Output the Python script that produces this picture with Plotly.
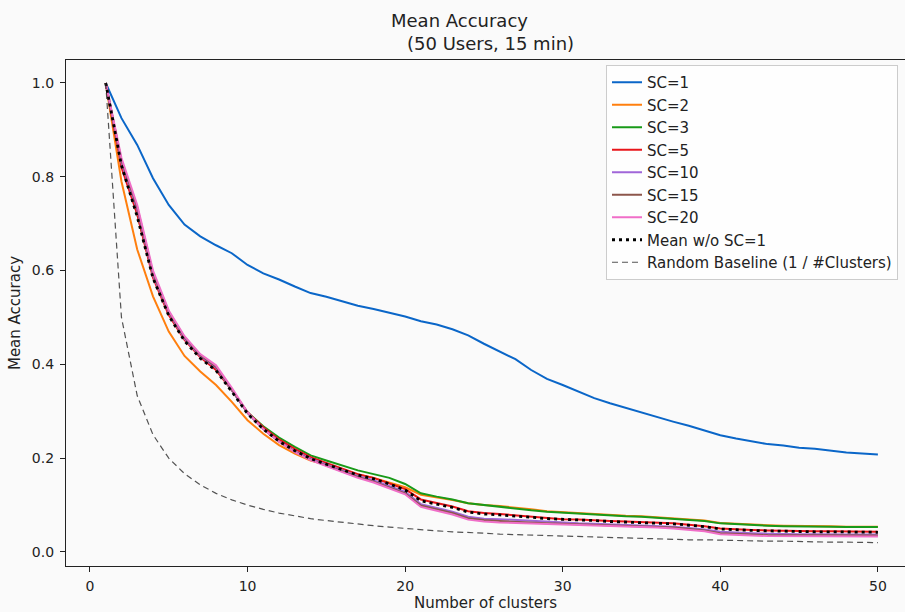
import plotly.graph_objects as go

clusters = list(range(1, 51))

sc1 = [1.000, 0.925, 0.868, 0.797, 0.740, 0.698, 0.673, 0.654, 0.637, 0.612,
       0.594, 0.581, 0.566, 0.552, 0.544, 0.534, 0.525, 0.518, 0.510, 0.502,
       0.492, 0.485, 0.475, 0.462, 0.444, 0.427, 0.411, 0.388, 0.369, 0.356,
       0.342, 0.328, 0.317, 0.307, 0.298, 0.288, 0.278, 0.269, 0.259, 0.249,
       0.242, 0.236, 0.230, 0.227, 0.222, 0.220, 0.216, 0.212, 0.210, 0.208]

sc2 = [1.000, 0.790, 0.645, 0.545, 0.470, 0.418, 0.385, 0.356, 0.320, 0.281,
       0.252, 0.228, 0.210, 0.195, 0.186, 0.176, 0.165, 0.158, 0.148, 0.138,
       0.122, 0.117, 0.111, 0.104, 0.100, 0.098, 0.095, 0.091, 0.087, 0.085,
       0.082, 0.080, 0.078, 0.077, 0.076, 0.074, 0.072, 0.070, 0.067, 0.062,
       0.060, 0.058, 0.057, 0.056, 0.056, 0.055, 0.055, 0.054, 0.054, 0.054]

sc3 = [1.000, 0.830, 0.720, 0.590, 0.510, 0.455, 0.418, 0.390, 0.345, 0.298,
       0.268, 0.244, 0.224, 0.206, 0.195, 0.185, 0.174, 0.166, 0.158, 0.145,
       0.125, 0.118, 0.112, 0.104, 0.100, 0.097, 0.093, 0.089, 0.086, 0.084,
       0.081, 0.079, 0.077, 0.076, 0.075, 0.073, 0.071, 0.069, 0.066, 0.061,
       0.059, 0.057, 0.056, 0.055, 0.055, 0.054, 0.054, 0.053, 0.053, 0.053]

sc5 = [1.000, 0.820, 0.720, 0.585, 0.505, 0.452, 0.415, 0.388, 0.345, 0.298,
       0.266, 0.240, 0.220, 0.202, 0.190, 0.178, 0.166, 0.158, 0.146, 0.134,
       0.112, 0.105, 0.097, 0.087, 0.083, 0.081, 0.078, 0.075, 0.072, 0.070,
       0.069, 0.067, 0.066, 0.065, 0.064, 0.063, 0.061, 0.058, 0.055, 0.050,
       0.048, 0.047, 0.046, 0.045, 0.045, 0.044, 0.044, 0.044, 0.043, 0.043]

sc10 = [1.000, 0.830, 0.730, 0.590, 0.510, 0.455, 0.418, 0.393, 0.345, 0.296,
        0.262, 0.236, 0.215, 0.199, 0.186, 0.174, 0.162, 0.153, 0.141, 0.128,
        0.102, 0.094, 0.086, 0.075, 0.071, 0.070, 0.068, 0.066, 0.064, 0.062,
        0.061, 0.060, 0.059, 0.058, 0.057, 0.056, 0.054, 0.051, 0.048, 0.043,
        0.041, 0.040, 0.039, 0.038, 0.038, 0.038, 0.037, 0.037, 0.037, 0.037]

sc15 = [1.000, 0.835, 0.735, 0.595, 0.512, 0.458, 0.420, 0.395, 0.347, 0.297,
        0.262, 0.235, 0.214, 0.197, 0.184, 0.172, 0.160, 0.150, 0.138, 0.125,
        0.099, 0.091, 0.083, 0.072, 0.068, 0.066, 0.064, 0.062, 0.061, 0.060,
        0.059, 0.058, 0.057, 0.056, 0.055, 0.054, 0.052, 0.049, 0.046, 0.040,
        0.038, 0.037, 0.036, 0.036, 0.035, 0.035, 0.035, 0.035, 0.035, 0.035]

sc20 = [1.000, 0.840, 0.740, 0.600, 0.515, 0.460, 0.422, 0.398, 0.350, 0.298,
        0.262, 0.235, 0.213, 0.196, 0.183, 0.171, 0.158, 0.148, 0.136, 0.123,
        0.096, 0.088, 0.080, 0.069, 0.065, 0.063, 0.062, 0.060, 0.059, 0.058,
        0.057, 0.056, 0.055, 0.054, 0.053, 0.052, 0.050, 0.047, 0.044, 0.038,
        0.036, 0.035, 0.034, 0.034, 0.033, 0.033, 0.033, 0.033, 0.033, 0.033]

mean_wo_sc1 = [1.000, 0.824, 0.715, 0.584, 0.504, 0.450, 0.413, 0.387, 0.342, 0.295,
               0.262, 0.236, 0.216, 0.199, 0.187, 0.176, 0.164, 0.156, 0.145, 0.132,
               0.109, 0.102, 0.095, 0.085, 0.081, 0.079, 0.077, 0.074, 0.071, 0.070,
               0.068, 0.067, 0.065, 0.064, 0.063, 0.062, 0.060, 0.057, 0.054, 0.049,
               0.047, 0.046, 0.045, 0.044, 0.044, 0.043, 0.043, 0.043, 0.042, 0.042]

random_baseline = [1.000, 0.500, 0.333, 0.250, 0.200, 0.167, 0.143, 0.125, 0.111, 0.100,
                   0.091, 0.083, 0.077, 0.071, 0.067, 0.063, 0.059, 0.056, 0.053, 0.050,
                   0.048, 0.045, 0.043, 0.042, 0.040, 0.038, 0.037, 0.036, 0.034, 0.033,
                   0.032, 0.031, 0.030, 0.029, 0.029, 0.028, 0.027, 0.026, 0.026, 0.025,
                   0.024, 0.024, 0.023, 0.023, 0.022, 0.022, 0.021, 0.021, 0.020, 0.020]

series_names = ["SC=1", "SC=2", "SC=3", "SC=5", "SC=10", "SC=15", "SC=20"]
series_values = [sc1, sc2, sc3, sc5, sc10, sc15, sc20]
series_colors = ["#0a66c8", "#ff7f0e", "#189a18", "#e8161b", "#a066d8", "#8c564b", "#f06ec8"]

x_ticks = [0, 10, 20, 30, 40, 50]
y_ticks = [0.0, 0.2, 0.4, 0.6, 0.8, 1.0]
y_tick_labels = ["0.0", "0.2", "0.4", "0.6", "0.8", "1.0"]

FONT = "DejaVu Sans"
W, H = 905, 612
L, T, B = 66, 60, 46

fig = go.Figure()
for name, vals, col in zip(series_names, series_values, series_colors):
    fig.add_trace(go.Scatter(x=clusters, y=vals, mode="lines", name=name,
                             line=dict(color=col, width=2)))
fig.add_trace(go.Scatter(x=clusters, y=mean_wo_sc1, mode="lines", name="Mean w/o SC=1",
                         line=dict(color="black", width=2.8, dash="3px,4px")))
fig.add_trace(go.Scatter(x=clusters, y=random_baseline, mode="lines",
                         name="Random Baseline (1 / #Clusters)",
                         line=dict(color="rgba(40,40,40,0.8)", width=1.2, dash="6px,4px")))

plot_w = W - L
plot_h = H - T - B
legend_x = (606 - L) / plot_w
legend_y = 1 - (65 - T) / plot_h

fig.update_layout(
    width=W, height=H,
    margin=dict(l=L, r=0, t=T, b=B, autoexpand=False),
    paper_bgcolor="#fafafa", plot_bgcolor="#fafafa",
    font=dict(family=FONT, size=13, color="#222"),
    showlegend=True,
    legend=dict(x=legend_x, y=legend_y, xanchor="left", yanchor="top",
                bgcolor="rgba(255,255,255,0.8)", bordercolor="#cccccc", borderwidth=1,
                font=dict(family=FONT, size=15, color="#222"),
                tracegroupgap=0),
    xaxis=dict(range=[-1.52, 51.72], tickvals=x_ticks, ticks="outside", ticklen=5,
               tickwidth=1.2, tickcolor="#222", showgrid=False, zeroline=False,
               showline=True, linecolor="#222", linewidth=1.3, mirror=True,
               ticklabelstandoff=2,
               title=dict(text="Number of clusters", font=dict(family=FONT, size=15), standoff=5),
               tickfont=dict(family=FONT, size=14)),
    yaxis=dict(range=[-0.0299, 1.049], tickvals=y_ticks, ticktext=y_tick_labels,
               ticks="outside", ticklen=5, tickwidth=1.2, tickcolor="#222",
               showgrid=False, zeroline=False, showline=True, linecolor="#222", linewidth=1.3,
               ticklabelstandoff=3,
               title=dict(text="Mean Accuracy", font=dict(family=FONT, size=15), standoff=7),
               tickfont=dict(family=FONT, size=14)),
    annotations=[
        dict(text="Mean Accuracy", xref="paper", yref="paper",
             x=(459 - L) / plot_w, y=1 + (T - 20) / plot_h, xanchor="center", yanchor="middle",
             showarrow=False, font=dict(family=FONT, size=18, color="#222")),
        dict(text="(50 Users, 15 min)", xref="paper", yref="paper",
             x=(490 - L) / plot_w, y=1 + (T - 44) / plot_h, xanchor="center", yanchor="middle",
             showarrow=False, font=dict(family=FONT, size=18, color="#222")),
    ],
)

fig.write_html("out.html", config={"displayModeBar": False},
               post_script="document.body.style.margin='0px';document.body.style.overflow='hidden';")
